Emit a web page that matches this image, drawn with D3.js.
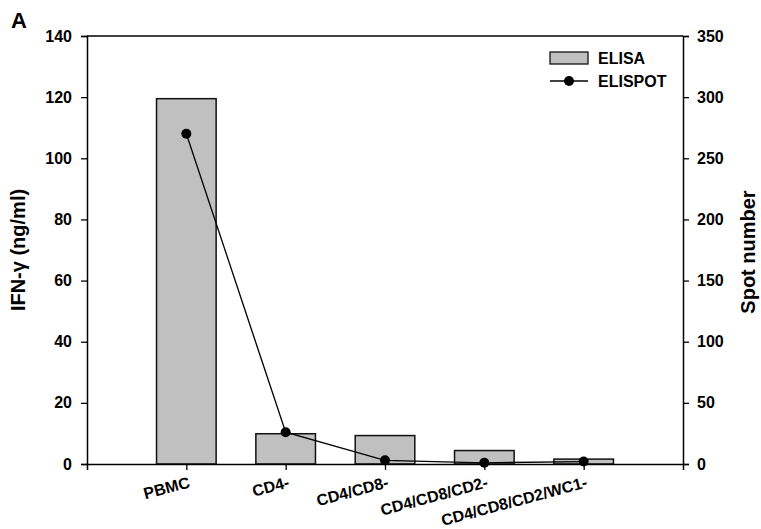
<!DOCTYPE html>
<html>
<head>
<meta charset="utf-8">
<script src="https://cdn.jsdelivr.net/npm/d3@7"></script>
<style>
  body { margin: 0; background: #fff; }
  text { font-family: "Liberation Sans", Arial, sans-serif; font-weight: bold; fill: #000; }
</style>
</head>
<body>
<div id="chart"></div>
<script>
// dane
var kategorie = ["PBMC", "CD4-", "CD4/CD8-", "CD4/CD8/CD2-", "CD4/CD8/CD2/WC1-"];
var elisa = [119.5, 9.9, 9.3, 4.4, 1.6];      // ng/ml
var elispot = [270, 26, 3, 1, 2];             // spot number
var lewyTicks = [0, 20, 40, 60, 80, 100, 120, 140];
var prawyTicks = [0, 50, 100, 150, 200, 250, 300, 350];

// marginesy
var margin = {top: 36, right: 78, bottom: 65, left: 87};
var width = 761 - margin.left - margin.right,
    height = 529 - margin.top - margin.bottom;

var svg = d3.select("#chart").append("svg")
    .attr("width", 761)
    .attr("height", 529);

var g = svg.append("g")
    .attr("transform", "translate(" + margin.left + "," + margin.top + ")");

// skale
var x = d3.scaleLinear().domain([0, kategorie.length + 1]).range([0, width]);
var yL = d3.scaleLinear().domain([0, 140]).range([height, 0]);
var yR = d3.scaleLinear().domain([0, 350]).range([height, 0]);
var krok = x(1) - x(0);
var szer = krok * 0.6;

// slupki ELISA
g.selectAll("rect.bar")
  .data(elisa)
  .enter().append("rect")
  .attr("class", "bar")
  .attr("x", function(d, i){ return x(i + 1) - szer / 2; })
  .attr("y", function(d){ return yL(d); })
  .attr("width", szer)
  .attr("height", function(d){ return height - yL(d); })
  .style("fill", "#c0c0c0")
  .style("stroke", "#111")
  .style("stroke-width", 1.5);

// linia ELISPOT
var linia = d3.line()
  .x(function(d, i){ return x(i + 1); })
  .y(function(d){ return yR(d); });

g.append("path")
  .datum(elispot)
  .attr("d", linia)
  .style("fill", "none")
  .style("stroke", "#000")
  .style("stroke-width", 1.3);

g.selectAll("circle.pkt")
  .data(elispot)
  .enter().append("circle")
  .attr("class", "pkt")
  .attr("cx", function(d, i){ return x(i + 1); })
  .attr("cy", function(d){ return yR(d); })
  .attr("r", 5)
  .style("fill", "#000");

// osie
var osL = g.append("g")
  .call(d3.axisLeft(yL).tickValues(lewyTicks).tickSize(6).tickPadding(9));
var osR = g.append("g")
  .attr("transform", "translate(" + width + ",0)")
  .call(d3.axisRight(yR).tickValues(prawyTicks).tickSize(6).tickPadding(8));
var osX = g.append("g")
  .attr("transform", "translate(0," + height + ")")
  .call(d3.axisBottom(x).tickValues(d3.range(1, kategorie.length + 1)).tickSize(6).tickFormat(""));

[osL, osR, osX].forEach(function(os){
  os.select(".domain").style("stroke", "#000").style("stroke-width", 1.5);
  os.selectAll(".tick line").style("stroke", "#000").style("stroke-width", 1.3);
  os.selectAll(".tick text").style("font-size", "16px").style("font-family", "Liberation Sans, Arial, sans-serif").style("font-weight", "bold");
});

// gorna ramka
g.append("line")
  .attr("x1", 0).attr("x2", width).attr("y1", 0).attr("y2", 0)
  .style("stroke", "#000").style("stroke-width", 1.5);

// etykiety kategorii
g.selectAll("text.kat")
  .data(kategorie)
  .enter().append("text")
  .attr("class", "kat")
  .attr("transform", function(d, i){ return "translate(" + (x(i + 1) + 1) + "," + (height + 10) + ") rotate(-15)"; })
  .attr("text-anchor", "end")
  .attr("dy", "0.85em")
  .style("font-size", "16px")
  .text(function(d){ return d; });

// tytuly osi
g.append("text")
  .attr("transform", "translate(" + (-62) + "," + (height / 2) + ") rotate(-90)")
  .attr("text-anchor", "middle")
  .style("font-size", "20px")
  .text("IFN-\u03b3 (ng/ml)");

g.append("text")
  .attr("transform", "translate(" + (width + 72) + "," + (height / 2 + 2) + ") rotate(-90)")
  .attr("text-anchor", "middle")
  .style("font-size", "20px")
  .text("Spot number");

// litera panelu
svg.append("text")
  .attr("x", 11).attr("y", 28)
  .style("font-size", "22px")
  .text("A");

// legenda
var leg = g.append("g").attr("transform", "translate(463,16)");
leg.append("rect")
  .attr("x", 0).attr("y", 0).attr("width", 38).attr("height", 12)
  .style("fill", "#c0c0c0").style("stroke", "#111").style("stroke-width", 1.3);
leg.append("text").attr("x", 48).attr("y", 12).style("font-size", "16px").text("ELISA");
leg.append("line")
  .attr("x1", 0).attr("x2", 38).attr("y1", 29).attr("y2", 29)
  .style("stroke", "#000").style("stroke-width", 1.3);
leg.append("circle").attr("cx", 19).attr("cy", 29).attr("r", 5).style("fill", "#000");
leg.append("text").attr("x", 48).attr("y", 35).style("font-size", "16px").text("ELISPOT");
</script>
</body>
</html>
